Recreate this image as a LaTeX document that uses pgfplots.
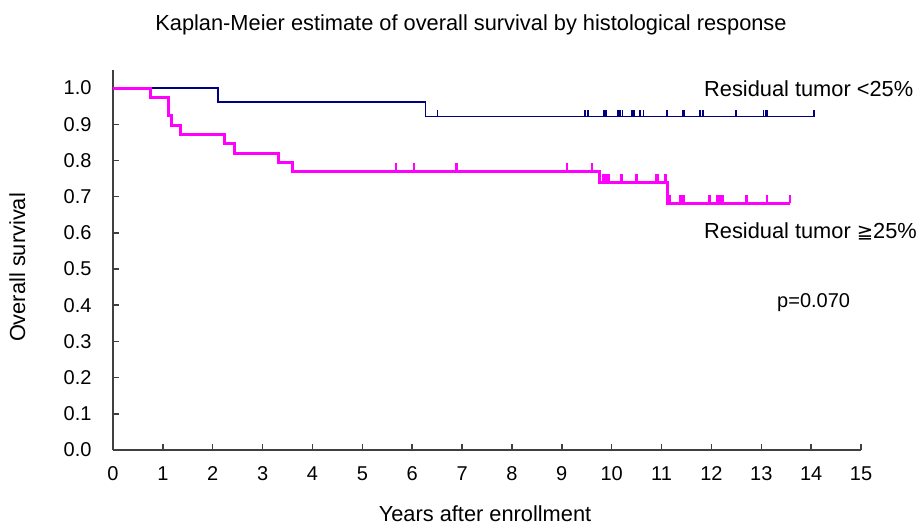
\documentclass[border=0pt]{standalone}
\usepackage{fontspec}
\setmainfont{Liberation Sans}
\newfontfamily\dejavu{DejaVu Sans}
\usepackage{pgfplots}
\pgfplotsset{compat=1.18}

\definecolor{kmnavy}{RGB}{0,0,128}
\definecolor{kmmag}{RGB}{255,0,255}
\definecolor{axgray}{RGB}{64,64,64}

% censor tick: a short bar standing on the curve
\pgfdeclareplotmark{cens}{%
  \pgfpathmoveto{\pgfqpoint{0pt}{0pt}}%
  \pgfpathlineto{\pgfqpoint{0pt}{\pgfplotmarksize}}%
  \pgfusepathqstroke}

\newcommand\lbl{\fontsize{21.8bp}{26bp}\selectfont}
\newcommand\tck{\fontsize{20bp}{24bp}\selectfont}

\begin{document}
\begin{tikzpicture}
\useasboundingbox (0,0) rectangle (919bp,524bp);
\begin{axis}[
  at={(113bp,74bp)}, anchor=south west,
  scale only axis, width=748bp, height=380bp,
  xmin=0, xmax=15, ymin=0, ymax=1.05,
  axis lines=left, axis line style={-, draw=axgray, line width=2bp},
  xtick={0,1,...,15},
  ytick={0,0.1,0.2,0.3,0.4,0.5,0.6,0.7,0.8,0.9,1.0},
  yticklabel style={/pgf/number format/.cd, fixed, fixed zerofill, precision=1},
  tick align=inside, major tick length=6bp,
  tick style={draw=axgray, line width=1.5bp},
  tick label style={font=\tck},
  /pgf/number format/assume math mode=true,
  xticklabel shift=13bp, yticklabel shift=18bp,
  clip=false,
]
% Residual tumor <25%
\addplot[const plot, kmnavy, line width=1.6bp]
  coordinates {(0,1.0)(2.11,0.9615)(6.27,0.9214)(14.06,0.9214)};
\addplot[only marks, mark=cens, mark size=6.7bp, mark options={draw=kmnavy, line width=1.5bp}]
  coordinates {(6.51,0.9214)(9.47,0.9214)(9.53,0.9214)(9.84,0.9214)(9.87,0.9214)(9.90,0.9214)
  (10.13,0.9214)(10.17,0.9214)(10.22,0.9214)(10.41,0.9214)(10.45,0.9214)(10.57,0.9214)
  (10.64,0.9214)(11.11,0.9214)(11.43,0.9214)(11.45,0.9214)(11.77,0.9214)(11.83,0.9214)
  (12.49,0.9214)(13.04,0.9214)(13.08,0.9214)(13.11,0.9214)(14.06,0.9214)};
% Residual tumor >=25%
\addplot[const plot, kmmag, line width=3bp]
  coordinates {(0,1.0)(0.76,0.9744)(1.12,0.9231)(1.17,0.8974)(1.36,0.8718)(2.24,0.8462)
  (2.43,0.8205)(3.32,0.7949)(3.60,0.7692)(9.76,0.7385)(11.11,0.6817)(13.58,0.6817)};
\addplot[only marks, mark=cens, mark size=8.3bp, mark options={draw=kmmag, line width=2.5bp}]
  coordinates {(5.68,0.7692)(6.04,0.7692)(6.89,0.7692)(9.10,0.7692)(9.61,0.7692)
  (9.84,0.7385)(9.87,0.7385)(9.90,0.7385)(9.95,0.7385)(10.20,0.7385)(10.50,0.7385)
  (10.89,0.7385)(10.93,0.7385)(11.08,0.7385)
  (11.16,0.6817)(11.37,0.6817)(11.41,0.6817)(11.44,0.6817)(11.96,0.6817)(12.11,0.6817)
  (12.14,0.6817)(12.18,0.6817)(12.22,0.6817)(12.70,0.6817)(13.11,0.6817)(13.58,0.6817)};
\end{axis}
\node[anchor=base, font=\lbl] at (471bp,493.3bp) {Kaplan-Meier estimate of overall survival by histological response};
\node[anchor=base, font=\lbl] at (485bp,3bp) {Years after enrollment};
\node[anchor=base, rotate=90, font=\lbl] at (25bp,256.5bp) {Overall survival};
\node[anchor=base west, inner sep=0pt, font=\lbl] at (704bp,427.3bp) {Residual tumor <25\%};
\node[anchor=base west, inner sep=0pt, font=\lbl] at (704bp,285.7bp) {Residual tumor {\fontsize{19.5bp}{22bp}\dejavu ≧}25\%};
\node[anchor=base west, inner sep=0pt, font=\tck] at (777bp,216.7bp) {p=0.070};
\end{tikzpicture}
\end{document}
